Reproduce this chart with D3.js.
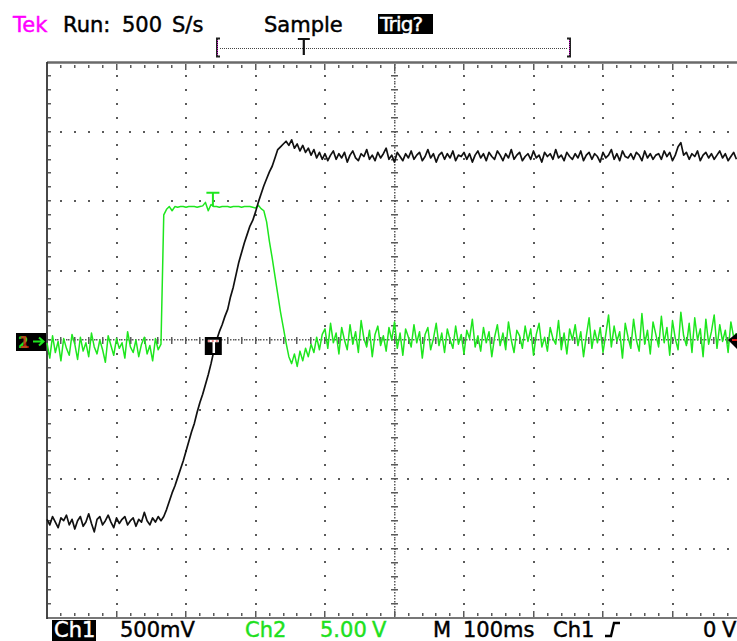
<!DOCTYPE html>
<html>
<head>
<meta charset="utf-8">
<script src="https://cdn.jsdelivr.net/npm/d3@7"></script>
<style>
  html, body { margin: 0; padding: 0; background: #fff; overflow: hidden; }
  svg { display: block; font-family: "DejaVu Sans", sans-serif; }
</style>
</head>
<body>
<svg id="scope" width="737" height="641"></svg>
<script>
// Acquisition: one stored point every 4 ms, 100 ms/div, 10 divisions.
const sampleIntervalMs = 4;
const timeSpanMs = [0, 1000];

// Ch1, 500 mV/div (volts)
const ch1Volts = [
  -1.29,-1.33,-1.27,-1.31,-1.35,-1.28,-1.30,-1.26,-1.33,-1.29,
  -1.36,-1.30,-1.27,-1.34,-1.31,-1.25,-1.32,-1.38,-1.29,-1.27,
  -1.33,-1.30,-1.26,-1.31,-1.35,-1.28,-1.32,-1.29,-1.27,-1.33,
  -1.30,-1.28,-1.34,-1.29,-1.31,-1.24,-1.30,-1.33,-1.28,-1.31,
  -1.27,-1.30,
  -1.27,-1.22,-1.16,-1.10,-1.05,-0.99,-0.93,-0.87,-0.80,-0.73,
  -0.66,-0.60,-0.52,-0.45,-0.39,-0.32,-0.25,-0.17,-0.08, 0.00,
   0.06, 0.11, 0.17, 0.22, 0.31, 0.38, 0.47, 0.56, 0.63, 0.70,
   0.76, 0.82, 0.86, 0.92, 0.99, 1.05, 1.11, 1.16, 1.21, 1.25,
   1.31, 1.37, 1.39, 1.41,
   1.43, 1.40, 1.44, 1.38, 1.41, 1.36, 1.40, 1.35, 1.38, 1.33,
   1.37, 1.31, 1.35, 1.30,
  1.34,1.29,1.33,1.36,1.30,1.34,1.31,1.35,1.28,1.33,
  1.36,1.31,1.29,1.34,1.32,1.37,1.30,1.33,1.29,1.35,
  1.31,1.34,1.38,1.30,1.33,1.28,1.35,1.32,1.29,1.34,
  1.31,1.36,1.30,1.33,1.35,1.29,1.32,1.37,1.31,1.34,
  1.28,1.33,1.35,1.30,1.34,1.31,1.36,1.29,1.33,1.32,
  1.35,1.30,1.34,1.28,1.33,1.36,1.31,1.34,1.29,1.35,
  1.32,1.30,1.36,1.33,1.29,1.34,1.31,1.37,1.30,1.33,
  1.35,1.29,1.32,1.34,1.30,1.36,1.31,1.33,1.28,1.35,
  1.32,1.34,1.30,1.37,1.31,1.33,1.29,1.35,1.32,1.30,
  1.34,1.31,1.36,1.29,1.33,1.35,1.30,1.34,1.32,1.28,
  1.35,1.31,1.33,1.37,1.30,1.34,1.29,1.36,1.32,1.31,
  1.34,1.30,1.35,1.33,1.29,1.36,1.31,1.34,1.30,1.33,
  1.34,1.30,1.36,1.32,1.35,1.29,1.33,1.39,1.42,1.33,
  1.35,1.30,1.34,1.32,1.36,1.29,1.33,1.35,1.31,1.34,
  1.30,1.33,1.36,1.31,1.34,1.29,1.32,1.35,1.30
];

// Ch2, 5.00 V/div (volts)
const ch2Volts = [
  -0.2,-1.3, 0.3,-0.9,-0.1,-1.5, 0.1,-0.6,-1.1, 0.4,
  -0.3,-1.4, 0.2,-0.8,-0.2,-1.2, 0.5,-0.5,-1.0, 0.0,
  -0.7,-1.6, 0.3,-0.4,-1.1, 0.1,-0.6,-0.2,-1.3, 0.6,
  -0.5,-0.9, 0.0,-1.2,-0.3, 0.2,-1.0,-0.4,-1.5, 0.1,
  -0.7,-0.3,
   9.0, 9.4, 9.6, 9.3, 9.6, 9.55, 9.6, 9.6, 9.55, 9.6,
   9.6, 9.6, 9.55, 9.6, 9.65, 9.9, 9.3, 9.75, 9.6, 9.6,
   9.55, 9.6, 9.6, 9.6, 9.55, 9.6, 9.6, 9.6, 9.55, 9.6,
   9.6, 9.6, 9.55, 9.5, 9.7, 9.45, 9.3,
   8.5, 7.1, 5.9, 4.6, 3.3, 2.0, 0.9,-0.2,-1.2,-1.7,
  -1.0,-1.9,-0.8,-1.5,-0.6,-1.2,-0.3,-0.9, 0.2,-0.7,
   0.4,
   0.8,-0.6, 1.2,-0.2, 0.5,-1.0, 0.9, 0.0,-0.7, 1.1,
  -0.3, 0.6,-0.9, 1.4, 0.1,-0.5, 0.7,-1.2, 0.4, 1.0,
  -0.4, 0.3,-0.8, 0.9, 0.0, 1.3,-0.6, 0.5,-1.1, 0.8,
   0.2,-0.5, 1.1,-0.2, 0.6,-1.3, 0.4, 0.9,-0.7, 0.1,
   1.2,-0.4, 0.5,-0.9, 0.8, 0.0,-0.6, 1.0,-0.3, 0.4,
  -1.0, 0.7, 0.1, 1.5,-0.5, 0.3,-0.8, 0.9,-0.2, 0.6,
  -1.2, 0.2, 1.1,-0.4, 0.5,-0.7, 1.3, 0.0,-0.9, 0.7,
   0.3,-0.6, 1.0,-0.1, 0.8,-1.1, 0.4, 1.2,-0.5, 0.2,
  -0.8, 0.9, 0.1,-0.3, 1.4,-0.7, 0.5,-1.0, 0.8, 0.0,
   1.1,-0.4, 0.6,-1.2, 0.3, 1.6,-0.6, 0.7,-0.2, 0.9,
  -0.9, 0.4, 1.8,-0.5, 1.0,-0.1, 0.6,-1.3, 1.2, 0.2,
  -0.6, 1.5, 0.0,-0.8, 1.9,-0.3, 0.7,-1.0, 1.3, 0.4,
  -0.5, 1.7,-0.2, 0.9,-1.1, 1.4, 0.1,-0.7, 2.0, 0.3,
  -0.4, 1.2,-0.9, 1.6, 0.0, 0.8,-1.2, 1.5,-0.3, 0.6,
   1.8,-0.6, 1.1,-0.1, 0.7,-0.9, 1.3, 0.2, 0.5
];

// Readout texts
const headerTexts = [
  { text: "Tek", x: 13, color: "#ff00ff" },
  { text: "Run:", x: 63, color: "#000" },
  { text: "500", x: 122, color: "#000" },
  { text: "S/s", x: 172, color: "#000" },
  { text: "Sample", x: 264, color: "#000" }
];
const footerTexts = [
  { text: "500mV", x: 120, color: "#000" },
  { text: "Ch2", x: 245, color: "#1ee01e" },
  { text: "5.00", x: 320, color: "#1ee01e" },
  { text: "V", x: 372, color: "#1ee01e" },
  { text: "M", x: 433, color: "#000" },
  { text: "100ms", x: 463, color: "#000" },
  { text: "Ch1", x: 553, color: "#000" },
  { text: "0", x: 703, color: "#000" },
  { text: "V", x: 722, color: "#000" }
];

const triggerTimeMs = 240;      // trigger point on Ch1 at 0 V
const recordWindowMs = [248, 752];

const svg = d3.select("#scope");
svg.append("rect").attr("width", 737).attr("height", 641).attr("fill", "#fff");

const x = d3.scaleLinear().domain(timeSpanMs).range([47, 742]);
const y1 = d3.scaleLinear().domain([-2, 2]).range([618, 62]);    // 500 mV/div
const y2 = d3.scaleLinear().domain([-20, 20]).range([618, 62]);  // 5 V/div

const grid = svg.append("g");
const dotColor = "#5a5a5a";
function dot(cx, cy, w = 2, h = 2) {
  grid.append("rect").attr("x", Math.round(cx - w / 2)).attr("y", Math.round(cy - h / 2))
    .attr("width", w).attr("height", h).attr("fill", dotColor);
}

// Dotted division lines
const minorT = d3.range(20, 1000, 20);
const minorV = d3.range(-19, 20).map(k => k / 10);
[100, 200, 300, 400, 600, 700, 800, 900].forEach(t => {
  minorV.forEach(v => dot(x(t), y1(v)));
});
[-1.5, -1, -0.5, 0.5, 1, 1.5].forEach(v => {
  minorT.forEach(t => dot(x(t), y1(v)));
});

// Centre graticule axes with fine dots and cross ticks
d3.range(-99, 100).forEach(k => dot(x(500), y1(k / 50), 1.5, 1.5));
minorV.forEach(v => dot(x(500), y1(v), 7, 1.5));
d3.range(1, 250).forEach(k => dot(x(k * 4), y1(0), 1.5, 1.5));
minorT.forEach(t => dot(x(t), y1(0), 1.5, 7));

// Frame with edge ticks
grid.append("line").attr("x1", 47).attr("x2", 737).attr("y1", 62.5).attr("y2", 62.5)
  .attr("stroke", "#6a6a6a").attr("stroke-width", 2.5);
grid.append("line").attr("x1", 47).attr("x2", 737).attr("y1", 618).attr("y2", 618)
  .attr("stroke", "#4a4a4a").attr("stroke-width", 1.5);
grid.append("line").attr("x1", 47).attr("x2", 47).attr("y1", 62).attr("y2", 619)
  .attr("stroke", "#333").attr("stroke-width", 1.8);
minorT.forEach(t => {
  const major = t % 100 === 0;
  dot(x(t), 66.5, 1.5, major ? 6 : 3);
  dot(x(t), 614, 1.5, major ? 6 : 3);
});
minorV.forEach(v => dot(49.5, y1(v), 3, 1.5));

// Traces
const line1 = d3.line().x((d, i) => x(i * sampleIntervalMs)).y(d => y1(d));
const line2 = d3.line().x((d, i) => x(i * sampleIntervalMs)).y(d => y2(d));
svg.append("path").attr("d", line2(ch2Volts)).attr("fill", "none")
  .attr("stroke", "#1ee61e").attr("stroke-width", 1.5).attr("stroke-linejoin", "round");
svg.append("path").attr("d", line1(ch1Volts)).attr("fill", "none")
  .attr("stroke", "#111").attr("stroke-width", 1.7).attr("stroke-linejoin", "round");

// Ch2 trigger "T" marker above the pulse
const tx = x(238);
svg.append("path").attr("d", `M${tx - 6},${y2(10.6)}H${tx + 7}M${tx + 0.5},${y2(10.6)}V${y2(9.6)}`)
  .attr("stroke", "#1ee61e").attr("stroke-width", 2).attr("fill", "none");

// Trigger point box on the Ch1 trace
const bx = x(triggerTimeMs), by = y1(0);
svg.append("rect").attr("x", bx - 9).attr("y", by - 3).attr("width", 17).attr("height", 18).attr("fill", "#000");
svg.append("path").attr("d", `M${bx - 6},${by + 1}H${bx + 5}M${bx},${by + 1}V${by + 13}`)
  .attr("stroke", "#fff").attr("stroke-width", 2.5);
svg.append("path").attr("d", `M${bx - 6},${by + 1}H${bx + 5}`)
  .attr("stroke", "#e02020").attr("stroke-width", 1).attr("stroke-dasharray", "2,2");

// Ground reference marker on the left
svg.append("rect").attr("x", 16).attr("y", 333).attr("width", 30).attr("height", 18).attr("fill", "#000");
svg.append("text").attr("x", 18).attr("y", 348).attr("font-size", 15).attr("font-weight", "bold")
  .attr("fill", "#1ee61e").text("2");
svg.append("text").attr("x", 19).attr("y", 348).attr("font-size", 15).attr("font-weight", "bold")
  .attr("fill", "#e01818").attr("fill-opacity", 0.75).text("1");
svg.append("path").attr("d", "M33,341.5H43M39,337.5L43.5,341.5L39,345.5")
  .attr("stroke", "#1ee61e").attr("stroke-width", 2).attr("fill", "none");

// Trigger level marker on the right
svg.append("path").attr("d", `M728,${y1(0)}L737,333L737,349Z`).attr("fill", "#000");
svg.append("rect").attr("x", 732).attr("y", y1(0) - 1).attr("width", 5).attr("height", 2).attr("fill", "#e01818");

// Header
const header = svg.append("g").attr("font-size", 21).attr("stroke-width", 0.45);
headerTexts.forEach(d => header.append("text").attr("x", d.x).attr("y", 32)
  .attr("fill", d.color).attr("stroke", d.color).text(d.text));
header.append("rect").attr("x", 378).attr("y", 14).attr("width", 55).attr("height", 20).attr("fill", "#000");
header.append("text").attr("x", 380).attr("y", 31).attr("fill", "#fff").attr("stroke", "#fff")
  .attr("font-size", 20).attr("letter-spacing", -0.8).text("Trig?");

// Record window bracket with trigger position
const rx0 = Math.round(x(recordWindowMs[0])) - 3, rx1 = Math.round(x(recordWindowMs[1])) - 3;
svg.append("line").attr("x1", rx0 + 4).attr("x2", rx1).attr("y1", 48.5).attr("y2", 48.5)
  .attr("stroke", "#444").attr("stroke-width", 1).attr("stroke-dasharray", "1,1");
svg.append("path").attr("d", `M${rx0 + 4},38.5H${rx0 + 1}V56.5H${rx0 + 4}`)
  .attr("stroke", "#222").attr("stroke-width", 2).attr("fill", "none");
svg.append("path").attr("d", `M${rx1},38.5H${rx1 + 3}V56.5H${rx1}`)
  .attr("stroke", "#222").attr("stroke-width", 2).attr("fill", "none");
svg.append("line").attr("x1", rx0 + 1.5).attr("x2", rx0 + 1.5).attr("y1", 40).attr("y2", 56)
  .attr("stroke", "#d020d0").attr("stroke-width", 1).attr("stroke-dasharray", "1,1");
svg.append("line").attr("x1", rx1 + 2.5).attr("x2", rx1 + 2.5).attr("y1", 40).attr("y2", 56)
  .attr("stroke", "#d020d0").attr("stroke-width", 1).attr("stroke-dasharray", "1,1");
const tpx = x(triggerTimeMs) + 90;
svg.append("path").attr("d", `M${tpx - 6},39H${tpx + 6}M${tpx},39V55`)
  .attr("stroke", "#111").attr("stroke-width", 2.2).attr("fill", "none");

// Footer readout
const footer = svg.append("g").attr("font-size", 21).attr("stroke-width", 0.45);
footer.append("rect").attr("x", 52).attr("y", 620).attr("width", 44).attr("height", 21).attr("fill", "#000");
footer.append("text").attr("x", 54).attr("y", 637).attr("fill", "#fff").attr("stroke", "#fff").text("Ch1");
footerTexts.forEach(d => footer.append("text").attr("x", d.x).attr("y", 637)
  .attr("fill", d.color).attr("stroke", d.color).text(d.text));
footer.append("path").attr("d", "M605,636H611L614,623H620")
  .attr("stroke", "#000").attr("stroke-width", 2.4).attr("fill", "none");
</script>
</body>
</html>
